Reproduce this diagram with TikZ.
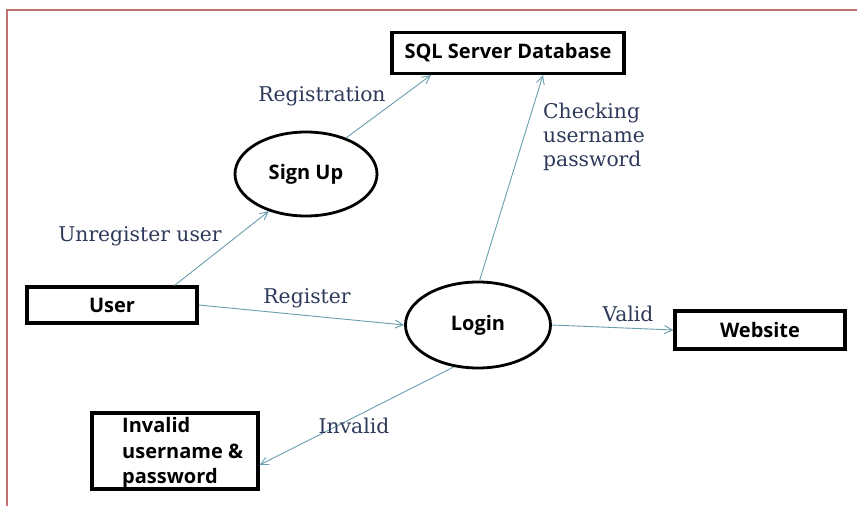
\documentclass[tikz,border=0pt]{standalone}
\usepackage{fontspec}
\newfontfamily\nodefont{Open Sans}
\newfontfamily\labfont{DejaVu Serif}
\usetikzlibrary{shapes.geometric,arrows.meta}
\definecolor{frame}{RGB}{192,112,112}
\definecolor{wire}{RGB}{106,158,174}
\definecolor{lbl}{RGB}{46,58,90}
\begin{document}
\begin{tikzpicture}[x=1pt,y=-1pt,
  box/.style={draw=black,line width=3.2pt,inner sep=0pt,font=\nodefont\bfseries\fontsize{20}{24}\selectfont},
  oval/.style={ellipse,draw=black,line width=2.8pt,inner sep=0pt,minimum width=142pt,minimum height=84pt,font=\nodefont\bfseries\fontsize{20}{24}\selectfont},
  wire/.style={draw=wire,line width=0.9pt,-{Straight Barb[length=8pt,width=8pt]}},
  lab/.style={text=lbl,font=\labfont\fontsize{20.3}{24}\selectfont,inner sep=0pt}]
\useasboundingbox (0,0) rectangle (857,506);
\fill[white] (0,0) rectangle (857,506);
\draw[frame,line width=1.6pt] (7,506) -- (7,10) -- (857,10);
% nodes
\node[box,minimum width=232pt,minimum height=41pt] (sql) at (508,53) {SQL Server Database};
\node[oval] (signup) at (306,174) {Sign Up};
\node[box,minimum width=170pt,minimum height=36pt] (user) at (112,305) {User};
\node[oval,minimum width=145pt,minimum height=86pt] (login) at (478,325) {Login};
\node[box,minimum width=170pt,minimum height=38pt] (website) at (760,330) {Website};
\node[box,minimum width=166pt,minimum height=76pt] (invalid) at (175,451) {};
\node[anchor=west,align=left,inner sep=0pt,font=\nodefont\bfseries\fontsize{20}{25.5}\selectfont] (invalidtxt) at (122,453) {Invalid\\username \&\\password};
% connectors
\draw[wire] (user.north east) ++(-24,0) coordinate (u1) -- (signup.-135);
\draw[wire] (signup.42) -- ([xshift=-77pt]sql.south);
\draw[wire] (user.east) -- (login.west);
\draw[wire] (login.88) -- ([xshift=35pt]sql.south);
\draw[wire] (login.east) -- (website.west);
\draw[wire] (login.-120) -- ([yshift=-14pt]invalid.east);
% labels
\node[lab] (lreg) at (322,96) {Registration};
\node[lab] (lunreg) at (140,236) {Unregister user};
\node[lab] (lregister) at (307,298) {Register};
\node[lab] (lvalid) at (628,314) {Valid};
\node[lab] (linvalid) at (354,426) {Invalid};
\node[lab,align=left,anchor=north west] (lcheck) at (543,103) {Checking\\username\\password};
\end{tikzpicture}
\end{document}
